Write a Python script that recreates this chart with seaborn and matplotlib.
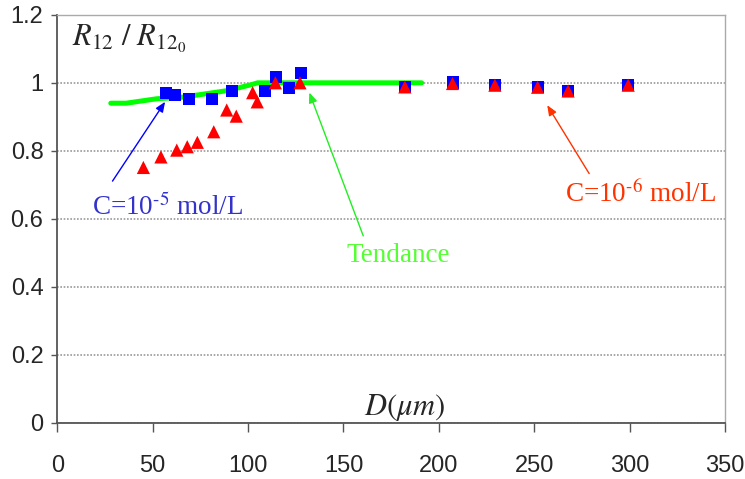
import matplotlib
matplotlib.use("Agg")
import matplotlib.pyplot as plt
import pandas as pd
import seaborn as sns

# C = 1e-5 mol/L (blue squares)
blue_d = [56.8, 61.7, 69.2, 81.2, 91.7, 108.7, 114.8, 121.6, 127.6,
          182.2, 207.5, 229.4, 251.8, 267.8, 299.3]
blue_r = [0.969, 0.964, 0.951, 0.951, 0.975, 0.975, 1.016, 0.986, 1.029,
          0.988, 1.001, 0.995, 0.989, 0.976, 0.995]

# C = 1e-6 mol/L (red triangles)
red_d = [45.1, 54.3, 62.6, 68.1, 73.4, 82.0, 88.8, 93.8, 102.4, 104.8, 114.3, 127.2,
         182.2, 207.2, 229.4, 251.8, 267.8, 299.3]
red_r = [0.751, 0.782, 0.802, 0.812, 0.825, 0.856, 0.920, 0.902, 0.971, 0.944, 1.0, 1.0,
         0.988, 0.998, 0.993, 0.987, 0.976, 0.993]

# trend line
trend_d = [28, 36, 52, 66, 89, 102, 105, 191]
trend_r = [0.94, 0.94, 0.953, 0.958, 0.977, 0.995, 1.0, 1.0]

x_ticks = [0, 50, 100, 150, 200, 250, 300, 350]
y_ticks = [0, 0.2, 0.4, 0.6, 0.8, 1.0, 1.2]
y_labels = ["0", "0.2", "0.4", "0.6", "0.8", "1", "1.2"]

sns.set_style("white")
plt.rcParams["font.family"] = ["Liberation Sans", "DejaVu Sans"]
plt.rcParams["mathtext.fontset"] = "stix"

fig = plt.figure(figsize=(7.45, 4.79), dpi=100)
ax = fig.add_axes([0.077, 0.1175, 0.896, 0.8515])

ax.set_xlim(0, 350)
ax.set_ylim(0, 1.2)
ax.set_yticks(y_ticks)
ax.set_yticklabels(y_labels)
ax.set_xticks(x_ticks)
ax.grid(axis="y", color="#999999", linestyle=(0, (1, 1)), linewidth=1.2)
ax.set_axisbelow(True)

sns.lineplot(x=trend_d, y=trend_r, ax=ax, color="#00ff00", linewidth=3.6,
             zorder=2, legend=False)
sns.scatterplot(x=blue_d, y=blue_r, ax=ax, marker="s", s=75, color="#0000ff",
                edgecolor="none", linewidth=0, zorder=3)
sns.scatterplot(x=red_d, y=red_r, ax=ax, marker="^", s=90, color="#ff0000",
                edgecolor="none", linewidth=0, zorder=4)

for side in ["left", "bottom"]:
    ax.spines[side].set_color("#555555")
    ax.spines[side].set_linewidth(1.3)
for side in ["top", "right"]:
    ax.spines[side].set_color("#aaaaaa")
    ax.spines[side].set_linewidth(1.0)

ax.tick_params(axis="y", direction="out", length=4.5, width=1, color="#555555",
               pad=5.5, labelsize=17, left=True)
ax.tick_params(axis="x", direction="out", length=6.5, width=1, color="#555555",
               pad=17, labelsize=17, bottom=True)

serif = ["Liberation Serif", "DejaVu Serif"]

ax.text(7.7, 1.128, r"$R_{12}\ /\ R_{12_0}$", fontsize=22, ha="left", va="center")
ax.text(182.2, 0.045, r"$D(\mu m)$", fontsize=22, ha="center", va="center")

ax.annotate("", xy=(57.3, 0.951), xytext=(28.1, 0.704),
            arrowprops=dict(arrowstyle="-|>,head_length=0.6,head_width=0.25",
                            color="#0000ff", linewidth=1))
ax.text(58.0, 0.634, r"C=10$^{\text{-}5}$ mol/L", fontsize=19.5, family=serif,
        color="#3333cc", ha="center", va="center")

ax.annotate("", xy=(131.6, 0.979), xytext=(160.9, 0.542),
            arrowprops=dict(arrowstyle="-|>,head_length=0.6,head_width=0.25",
                            color="#22ee22", linewidth=1))
ax.text(178.6, 0.493, "Tendance", fontsize=19.5, family=serif,
        color="#55ff33", ha="center", va="center")

ax.annotate("", xy=(256.1, 0.941), xytext=(279.6, 0.726),
            arrowprops=dict(arrowstyle="-|>,head_length=0.6,head_width=0.25",
                            color="#ff3300", linewidth=1))
ax.text(306.0, 0.673, r"C=10$^{\text{-}6}$ mol/L", fontsize=19.5, family=serif,
        color="#ff3300", ha="center", va="center")

fig.savefig("out.png", dpi=100)
